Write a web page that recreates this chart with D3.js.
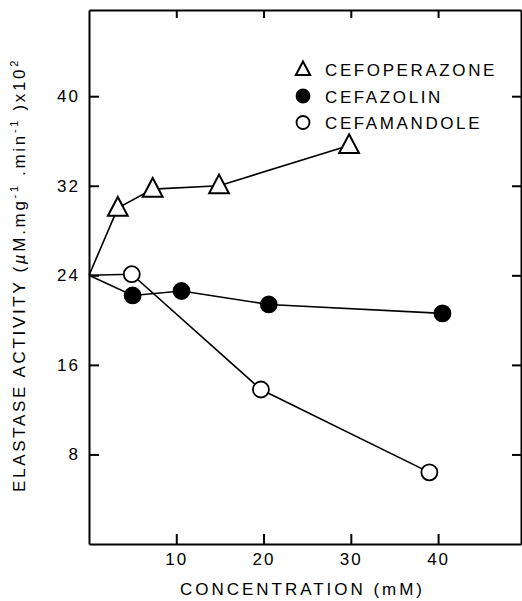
<!DOCTYPE html>
<html>
<head>
<meta charset="utf-8">
<script src="https://cdn.jsdelivr.net/npm/d3@7"></script>
<style>
  body { margin: 0; background: #fff; }
  text { font-family: "Liberation Sans", Arial, sans-serif; fill: #000; }
</style>
</head>
<body>
<div id="chart"></div>
<script>
// values
const cefoperazoneX = [0, 3.3, 7.3, 14.9, 29.8]
const cefoperazoneY = [24, 30.0, 31.7, 32.0, 35.6]
const cefazolinX = [0, 5.0, 10.6, 20.6, 40.5]
const cefazolinY = [24, 22.2, 22.6, 21.4, 20.6]
const cefamandoleX = [0, 4.9, 19.7, 39.0]
const cefamandoleY = [24, 24.1, 13.8, 6.4]
const xTicks = [10, 20, 30, 40]
const yTicks = [8, 16, 24, 32, 40]
const legendNames = ['CEFOPERAZONE', 'CEFAZOLIN', 'CEFAMANDOLE']

const width = 522, height = 601
const plotLeft = 89, plotRight = 521, plotTop = 10, plotBottom = 544

const svg = d3.select('#chart').append('svg')
  .attr('width', width)
  .attr('height', height)

const x = d3.scaleLinear().domain([0, 49.5]).range([plotLeft, plotRight])
const y = d3.scaleLinear().domain([0, 47.7]).range([plotBottom, plotTop])

// spread letters so a text fills a given length (the scan uses wide typewriter-like spacing)
function spreadTo(sel, target) {
  const node = sel.node()
  const n = node.getNumberOfChars()
  const natural = node.getComputedTextLength()
  sel.style('letter-spacing', ((target - natural) / n) + 'px')
}

// frame + inward ticks
svg.append('g').attr('transform', `translate(0,${plotBottom})`)
  .call(d3.axisBottom(x).tickValues(xTicks).tickSizeInner(-10).tickSizeOuter(0).tickPadding(9))
svg.append('g').attr('transform', `translate(0,${plotTop})`)
  .call(d3.axisTop(x).tickValues(xTicks).tickSizeInner(-8).tickSizeOuter(0).tickFormat(''))
svg.append('g').attr('transform', `translate(${plotLeft},0)`)
  .call(d3.axisLeft(y).tickValues(yTicks).tickSizeInner(-10).tickSizeOuter(0).tickPadding(9))
svg.append('g').attr('transform', `translate(${plotRight},0)`)
  .call(d3.axisRight(y).tickValues(yTicks).tickSizeInner(-9).tickSizeOuter(0).tickFormat(''))

svg.selectAll('.domain').attr('stroke', '#000').attr('stroke-width', 2)
svg.selectAll('.tick line').attr('stroke', '#000').attr('stroke-width', 2)
svg.selectAll('.tick text')
  .style('font-size', '17px')
  .style('letter-spacing', '2px')
  .style('font-family', '"Liberation Sans", Arial, sans-serif')
  .attr('fill', '#000')

const series = [
  {xs: cefoperazoneX, ys: cefoperazoneY, shape: 'triangle'},
  {xs: cefazolinX, ys: cefazolinY, shape: 'filled'},
  {xs: cefamandoleX, ys: cefamandoleY, shape: 'open'}
]

const line = d3.line().x(d => x(d[0])).y(d => y(d[1]))
const triPath = s => `M0,${-s * 0.62}L${s * 0.55},${s * 0.42}L${-s * 0.55},${s * 0.42}Z`

function drawMarker(g, shape, cx, cy, size) {
  if (shape === 'triangle') {
    g.append('path').attr('d', triPath(size))
      .attr('transform', `translate(${cx},${cy})`)
      .attr('fill', '#fff').attr('stroke', '#000').attr('stroke-width', 2)
  } else {
    g.append('circle').attr('cx', cx).attr('cy', cy).attr('r', size / 2)
      .attr('fill', shape === 'filled' ? '#000' : '#fff')
      .attr('stroke', '#000').attr('stroke-width', 1.8)
  }
}

series.forEach(s => {
  const pts = s.xs.map((v, i) => [v, s.ys[i]])
  svg.append('path').datum(pts)
    .attr('d', line)
    .attr('fill', 'none').attr('stroke', '#000').attr('stroke-width', 1.6)
  const g = svg.append('g')
  pts.slice(1).forEach(p => drawMarker(g, s.shape, x(p[0]), y(p[1]), s.shape === 'triangle' ? 18 : 16))
})

// legend
const legend = svg.append('g')
let legendSpacing = null
legendNames.forEach((name, i) => {
  const base = 76 + i * 26.5
  drawMarker(legend, series[i].shape, 303, base - 6.5, 13)
  const t = legend.append('text')
    .attr('x', 325).attr('y', base)
    .style('font-size', '17px')
    .text(name)
  if (legendSpacing === null) {
    spreadTo(t, 172)
    legendSpacing = t.style('letter-spacing')
  } else {
    t.style('letter-spacing', legendSpacing)
  }
})

// axis titles
const xt = svg.append('text')
  .attr('x', 180).attr('y', 595)
  .style('font-size', '17px')
  .text('CONCENTRATION (mM)')
spreadTo(xt, 245)

const yt = svg.append('text')
  .attr('transform', 'translate(25,492) rotate(-90)')
  .style('font-size', '17px')
yt.append('tspan').text('ELASTASE ACTIVITY (')
yt.append('tspan').style('font-style', 'italic').text('µ')
yt.append('tspan').text('M.mg')
yt.append('tspan').attr('dy', -7).style('font-size', '11px').text('-1')
yt.append('tspan').attr('dy', 7).text(' .min')
yt.append('tspan').attr('dy', -7).style('font-size', '11px').text('-1')
yt.append('tspan').attr('dy', 7).text(' )x10')
yt.append('tspan').attr('dy', -7).style('font-size', '11px').text('2')
spreadTo(yt, 434)
</script>
</body>
</html>
